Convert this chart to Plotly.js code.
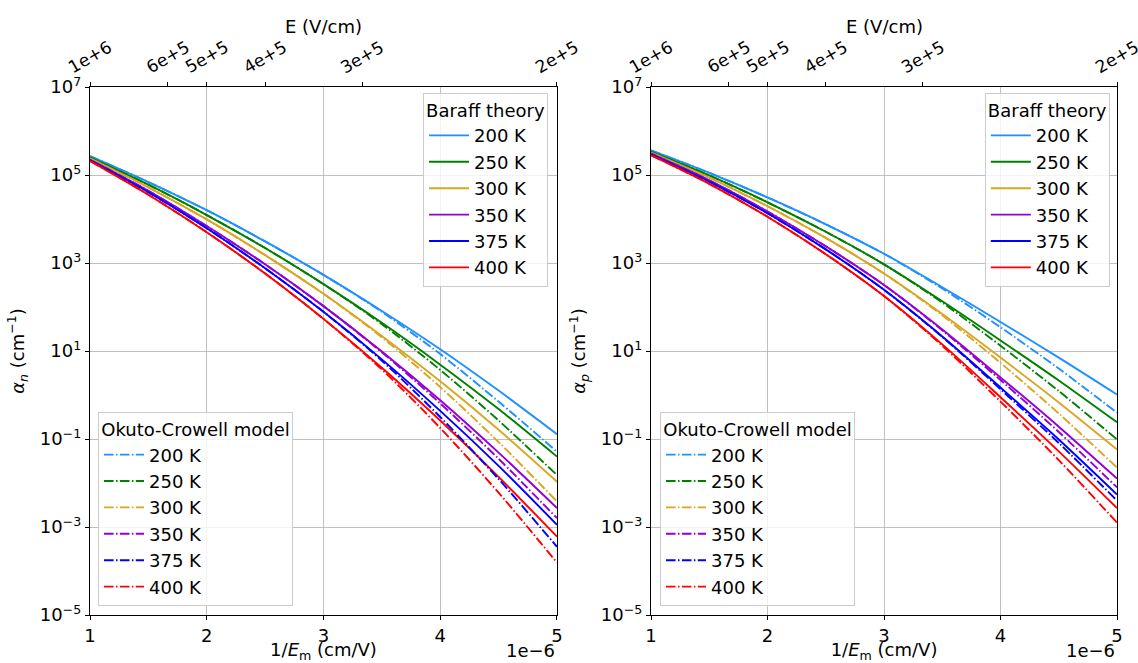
<!DOCTYPE html>
<html>
<head>
<meta charset="utf-8">
<script src="https://cdn.plot.ly/plotly-3.0.1.min.js"></script>
<style>html,body{margin:0;padding:0;background:#fff;}#chart{width:1138px;height:663px;}</style>
</head>
<body>
<div id="chart"></div>
<script>
// 1/E_m in units of 1e-6 cm/V
const invE = [1.0, 1.5, 2.0, 2.5, 3.0, 3.5, 4.0, 4.5, 5.0];
const temps = ['200 K', '250 K', '300 K', '350 K', '375 K', '400 K'];
const colors = ['#1e90ff', '#008000', '#daa520', '#9400d3', '#0000ff', '#ff0000'];

// top axis: electric field E (V/cm) ticks, positioned at 1/E
const topE = [1e6, 6e5, 5e5, 4e5, 3e5, 2e5];
const topLabels = ['1e+6', '6e+5', '5e+5', '4e+5', '3e+5', '2e+5'];

// log10 of alpha_n (cm^-1), Baraff theory
const an_baraff_200 = [5.43, 4.84, 4.20, 3.49, 2.73, 1.91, 1.04, 0.10, -0.89];
const an_baraff_250 = [5.40, 4.78, 4.09, 3.34, 2.52, 1.64, 0.69, -0.32, -1.40];
const an_baraff_300 = [5.38, 4.72, 3.99, 3.18, 2.30, 1.34, 0.31, -0.79, -1.97];
const an_baraff_350 = [5.35, 4.64, 3.84, 2.97, 2.02, 0.99, -0.12, -1.31, -2.57];
const an_baraff_375 = [5.34, 4.61, 3.79, 2.88, 1.89, 0.81, -0.36, -1.61, -2.95];
const an_baraff_400 = [5.32, 4.55, 3.70, 2.76, 1.73, 0.62, -0.58, -1.86, -3.22];
// log10 of alpha_n, Okuto-Crowell model
const an_oc_200 = [5.43, 4.84, 4.20, 3.49, 2.73, 1.89, 0.93, -0.15, -1.29];
const an_oc_250 = [5.40, 4.78, 4.09, 3.34, 2.52, 1.61, 0.57, -0.58, -1.82];
const an_oc_300 = [5.38, 4.72, 3.99, 3.18, 2.30, 1.31, 0.18, -1.07, -2.42];
const an_oc_350 = [5.35, 4.64, 3.84, 2.97, 2.02, 0.97, -0.19, -1.45, -2.80];
const an_oc_375 = [5.34, 4.61, 3.79, 2.88, 1.89, 0.78, -0.50, -1.91, -3.45];
const an_oc_400 = [5.32, 4.55, 3.70, 2.76, 1.73, 0.58, -0.75, -2.22, -3.81];

// log10 of alpha_p (cm^-1), Baraff theory
const ap_baraff_200 = [5.56, 5.05, 4.49, 3.88, 3.21, 2.45, 1.66, 0.85, 0.01];
const ap_baraff_250 = [5.53, 4.99, 4.38, 3.71, 2.97, 2.13, 1.24, 0.33, -0.62];
const ap_baraff_300 = [5.51, 4.94, 4.29, 3.57, 2.76, 1.84, 0.85, -0.17, -1.24];
const ap_baraff_350 = [5.49, 4.88, 4.17, 3.38, 2.50, 1.49, 0.40, -0.72, -1.90];
const ap_baraff_375 = [5.47, 4.85, 4.13, 3.31, 2.39, 1.33, 0.17, -1.01, -2.26];
const ap_baraff_400 = [5.45, 4.80, 4.05, 3.20, 2.25, 1.15, -0.05, -1.28, -2.57];
// log10 of alpha_p, Okuto-Crowell model
const ap_oc_200 = [5.56, 5.05, 4.49, 3.88, 3.21, 2.42, 1.54, 0.60, -0.40];
const ap_oc_250 = [5.53, 4.99, 4.38, 3.71, 2.97, 2.10, 1.12, 0.09, -1.01];
const ap_oc_300 = [5.51, 4.94, 4.29, 3.57, 2.76, 1.81, 0.73, -0.42, -1.65];
const ap_oc_350 = [5.49, 4.88, 4.17, 3.38, 2.50, 1.47, 0.34, -0.84, -2.10];
const ap_oc_375 = [5.47, 4.85, 4.13, 3.31, 2.39, 1.32, 0.13, -1.09, -2.40];
const ap_oc_400 = [5.45, 4.80, 4.05, 3.20, 2.25, 1.12, -0.15, -1.48, -2.90];

const yTickVals = [1e-5, 1e-3, 1e-1, 1e1, 1e3, 1e5, 1e7];
const yTickText = ['10<sup>−5</sup>', '10<sup>−3</sup>', '10<sup>−1</sup>', '10<sup>1</sup>', '10<sup>3</sup>', '10<sup>5</sup>', '10<sup>7</sup>'];

const an_baraff = [an_baraff_200, an_baraff_250, an_baraff_300, an_baraff_350, an_baraff_375, an_baraff_400];
const an_oc = [an_oc_200, an_oc_250, an_oc_300, an_oc_350, an_oc_375, an_oc_400];
const ap_baraff = [ap_baraff_200, ap_baraff_250, ap_baraff_300, ap_baraff_350, ap_baraff_375, ap_baraff_400];
const ap_oc = [ap_oc_200, ap_oc_250, ap_oc_300, ap_oc_350, ap_oc_375, ap_oc_400];

const DD = '9.6px,2.4px,1.5px,2.4px';
const FONT = 'DejaVu Sans, sans-serif';
const FS = 18;
const traces = [];
function add(set, xa, ya, dash, legend, tag) {
  set.forEach((arr, i) => {
    traces.push({
      x: invE, y: arr.map(v => Math.pow(10, v)),
      xaxis: xa, yaxis: ya, type: 'scatter', mode: 'lines',
      line: {color: colors[i], width: 1.9, dash: dash, shape: 'spline', smoothing: 0.8},
      name: temps[i], legend: legend, legendgroup: tag + i, showlegend: true
    });
  });
}
add(an_baraff, 'x', 'y', 'solid', 'legend', 'nb');
add(an_oc, 'x', 'y', DD, 'legend2', 'no');
add(ap_baraff, 'x3', 'y2', 'solid', 'legend3', 'pb');
add(ap_oc, 'x3', 'y2', DD, 'legend4', 'po');
// invisible traces to realise the top axes
traces.push({x: [1, 5], y: [1, 1], xaxis: 'x2', yaxis: 'y', mode: 'lines', line: {width: 0}, hoverinfo: 'skip', showlegend: false});
traces.push({x: [1, 5], y: [1, 1], xaxis: 'x4', yaxis: 'y2', mode: 'lines', line: {width: 0}, hoverinfo: 'skip', showlegend: false});

const topVals = topE.map(e => 1e6 / e);

const left = [0, 0.4547], right = [0.5463, 1];
function bottomAxis(dom, anchor) {
  return {
    domain: dom, anchor: anchor, range: [1, 5], tickvals: [1, 2, 3, 4, 5], ticktext: ['1', '2', '3', '4', '5'],
    showgrid: true, gridcolor: '#b0b0b0', gridwidth: 0.8, zeroline: false,
    showline: true, linecolor: '#000', linewidth: 1.2, ticks: 'outside', ticklen: 4, tickcolor: '#000',
    tickfont: {family: FONT, size: FS, color: '#000'},
    title: {text: '1/<i>E</i><sub>m</sub> (cm/V)', font: {family: FONT, size: FS, color: '#000'}, standoff: 6}
  };
}
function topAxis(over, anchor) {
  return {
    overlaying: over, anchor: anchor, side: 'top', range: [1, 5], tickvals: topVals,
    showticklabels: false, showgrid: false, zeroline: false, showline: true, linecolor: '#000', linewidth: 1.2,
    ticks: 'outside', ticklen: 4, tickcolor: '#000'
  };
}
function yAxis(anchor, title) {
  return {
    anchor: anchor, type: 'log', range: [-5, 7], tickvals: yTickVals, ticktext: yTickText,
    showgrid: true, gridcolor: '#b0b0b0', gridwidth: 0.8, zeroline: false,
    showline: true, mirror: true, linecolor: '#000', linewidth: 1.2, ticks: 'outside', ticklen: 4, tickcolor: '#000',
    tickfont: {family: FONT, size: FS, color: '#000'},
    title: {text: title, font: {family: FONT, size: FS, color: '#000'}, standoff: 10}
  };
}
function legendBox(x, y, xanchor, yanchor, title) {
  return {
    x: x, y: y, xanchor: xanchor, yanchor: yanchor, xref: 'paper', yref: 'paper',
    bgcolor: 'rgba(255,255,255,0.8)', bordercolor: '#cccccc', borderwidth: 1,
    font: {family: FONT, size: FS, color: '#000'},
    title: {text: title, side: 'top center', font: {family: FONT, size: FS, color: '#000'}},
    tracegroupgap: 0, itemwidth: 40, traceorder: 'grouped'
  };
}
const annotations = [];
['x', 'x3'].forEach(xr => {
  topVals.forEach((v, i) => {
    annotations.push({text: topLabels[i], xref: xr, yref: 'paper', x: v, y: 1.056, xanchor: 'center', yanchor: 'middle',
      textangle: -30, showarrow: false, font: {family: FONT, size: 17, color: '#000'}});
  });
  annotations.push({text: 'E (V/cm)', xref: xr, yref: 'paper', x: 3, y: 1.1155, xanchor: 'center', yanchor: 'middle',
    showarrow: false, font: {family: FONT, size: FS, color: '#000'}});
});
annotations.push({text: '1e−6', xref: 'paper', yref: 'paper', x: 0.4547, y: 0, xanchor: 'right', yanchor: 'top', yshift: -23, showarrow: false, font: {family: FONT, size: FS, color: '#000'}});
annotations.push({text: '1e−6', xref: 'paper', yref: 'paper', x: 1, y: 0, xanchor: 'right', yanchor: 'top', yshift: -23, showarrow: false, font: {family: FONT, size: FS, color: '#000'}});

const layout = {
  width: 1138, height: 663, paper_bgcolor: '#fff', plot_bgcolor: '#fff',
  margin: {l: 90, r: 21, t: 87, b: 48, autoexpand: false},
  showlegend: true,
  xaxis: bottomAxis(left, 'y'),
  xaxis2: topAxis('x', 'y'),
  xaxis3: bottomAxis(right, 'y2'),
  xaxis4: topAxis('x3', 'y2'),
  yaxis: yAxis('x', '<i>α</i><sub><i>n</i></sub> (cm<sup>−1</sup>)'),
  yaxis2: yAxis('x3', '<i>α</i><sub><i>p</i></sub> (cm<sup>−1</sup>)'),
  legend: legendBox(0.446, 0.989, 'right', 'top', 'Baraff theory'),
  legend2: legendBox(0.0078, 0.017, 'left', 'bottom', 'Okuto-Crowell model'),
  legend3: legendBox(0.993, 0.989, 'right', 'top', 'Baraff theory'),
  legend4: legendBox(0.555, 0.017, 'left', 'bottom', 'Okuto-Crowell model'),
  annotations: annotations
};
Plotly.newPlot('chart', traces, layout, {displayModeBar: false, staticPlot: true});
</script>
</body>
</html>
